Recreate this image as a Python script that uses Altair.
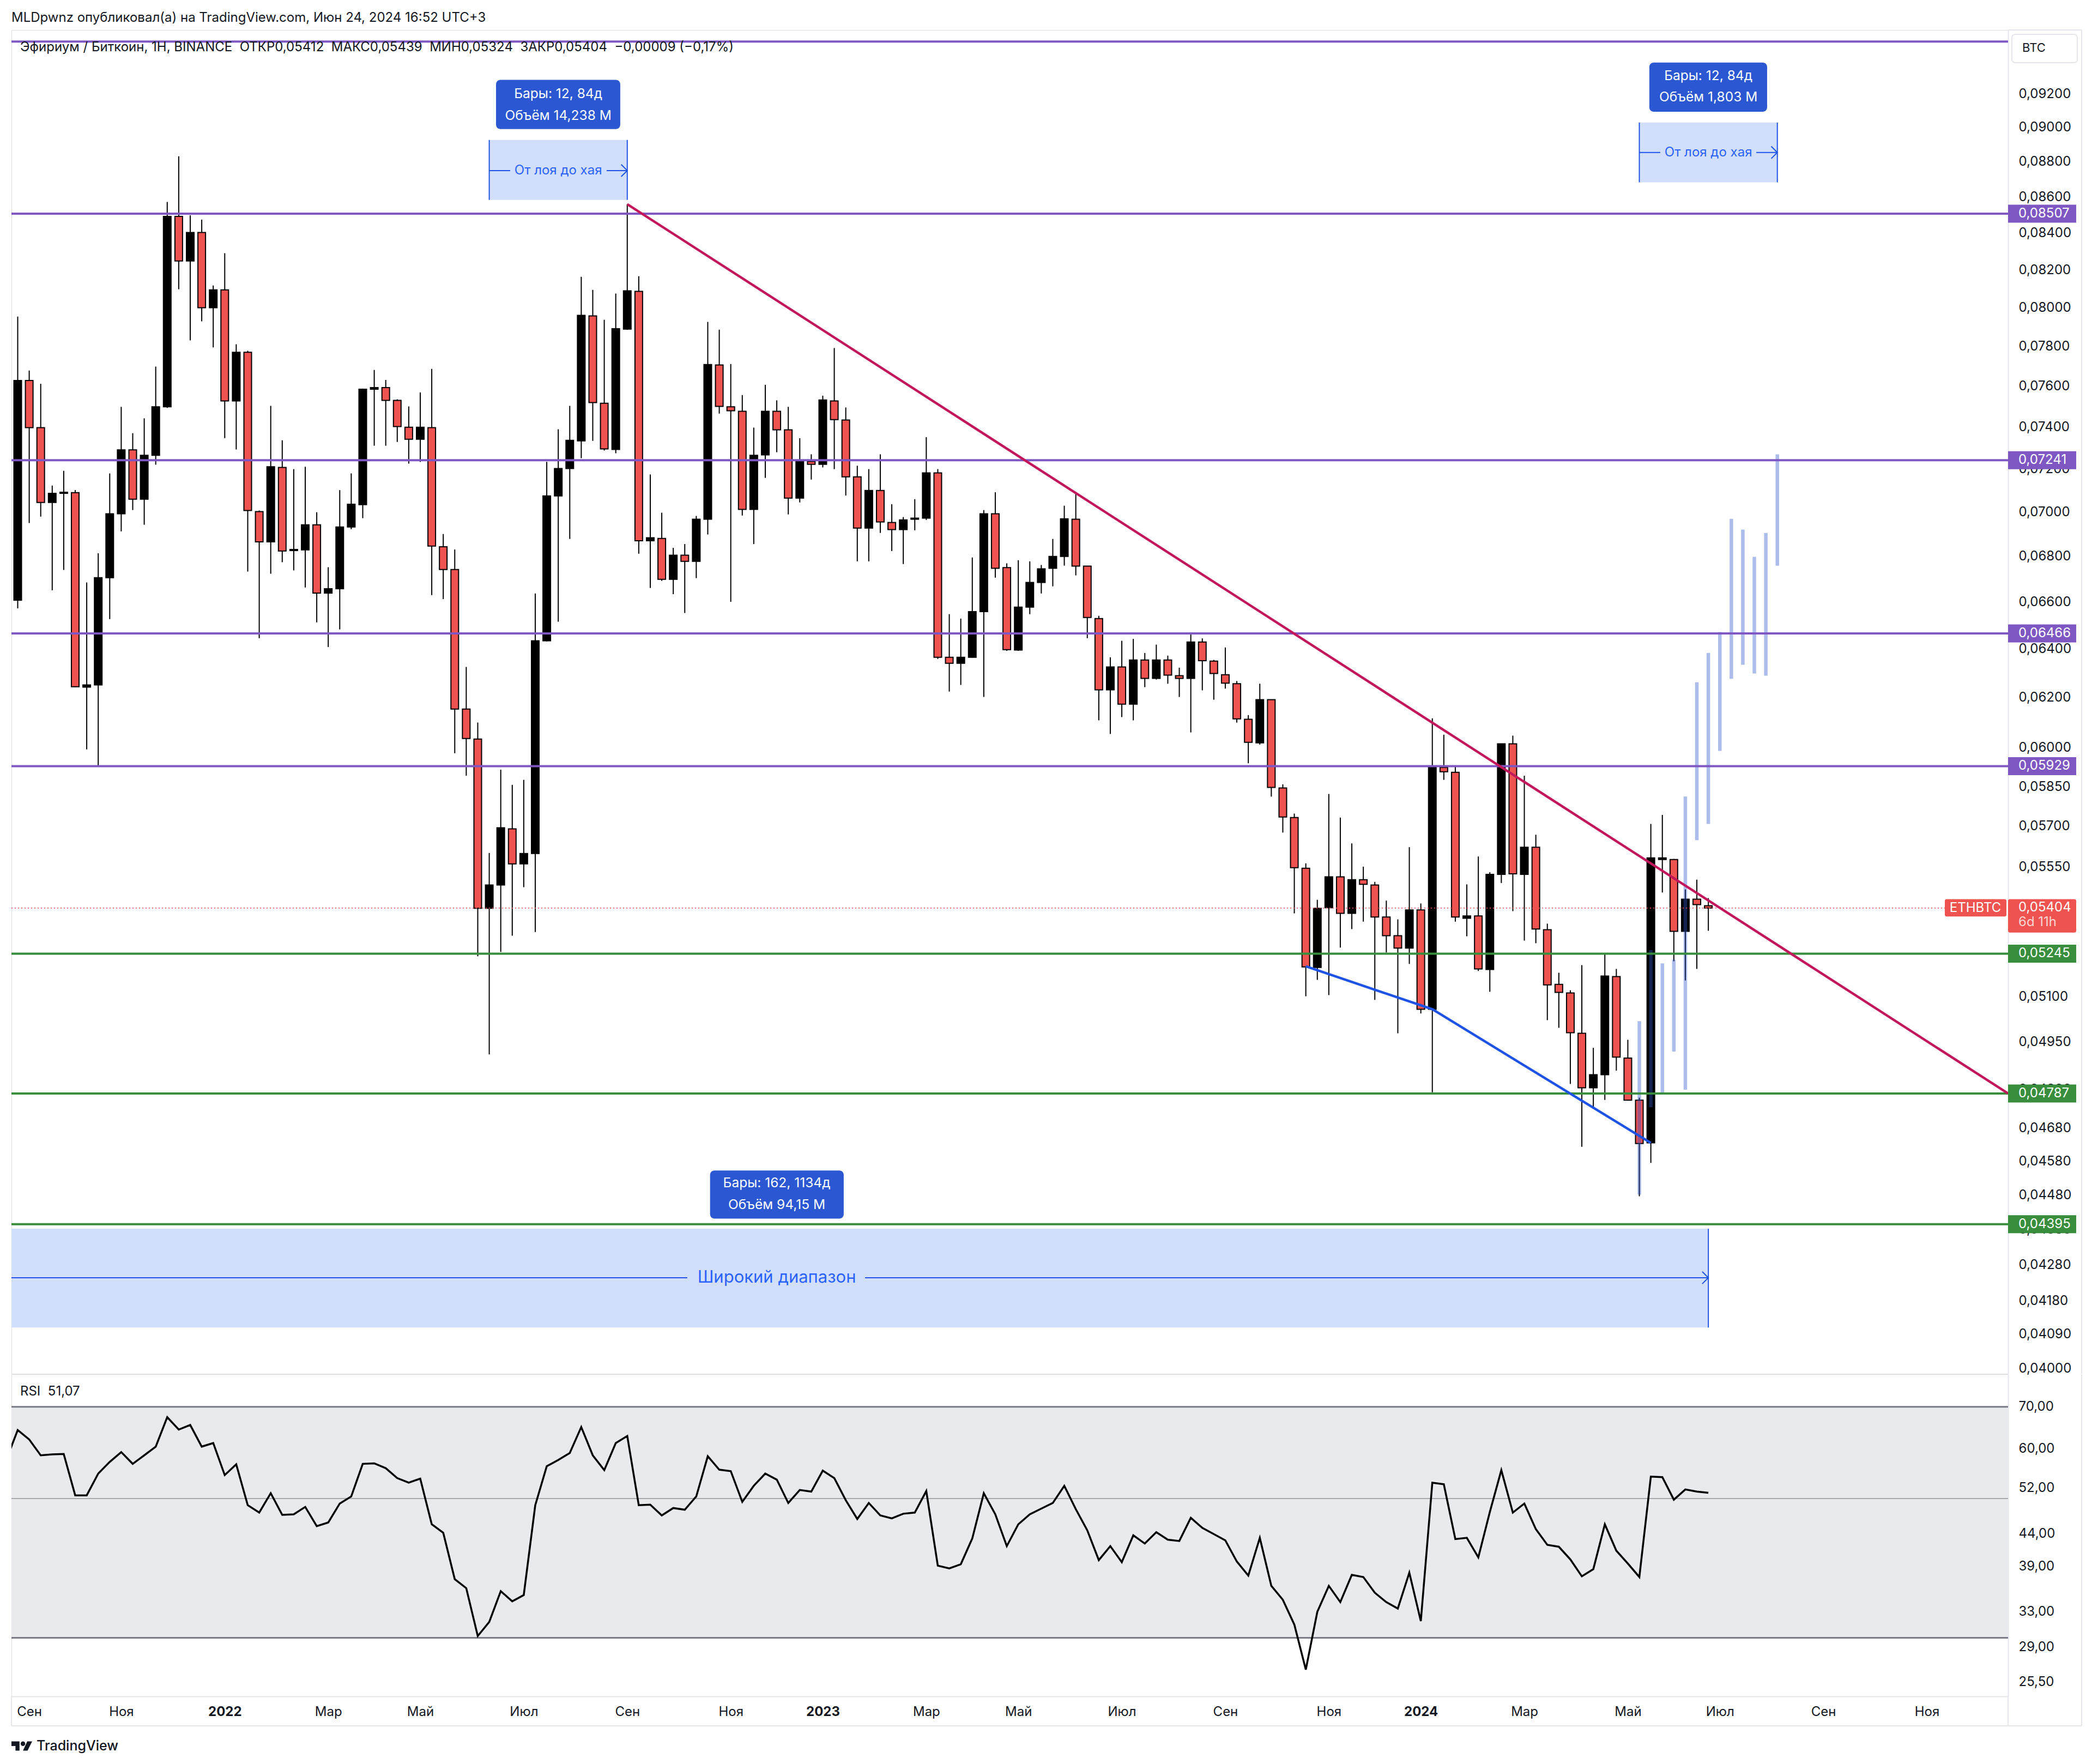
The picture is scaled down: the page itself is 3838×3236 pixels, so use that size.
import json

import altair as alt
import pandas as pd

FONT = 'Inter'
INK = '#131722'
UP = '#000000'
DOWN = '#ef5350'
PURPLE = '#7e57c2'
GREEN = '#388e3c'
TOOL = '#1e53e5'
FRAME = '#e4e6ec'

# weekly candles, prices in units of 0.00001 BTC
opens = [
    6608, 7628, 7397, 7044, 7086, 7089, 6243, 6252, 6706, 6992,
    7290, 7059, 7264, 7498, 8492, 8248, 8403, 8000, 8094, 7527,
    7770, 7002, 6865, 7207, 6826, 6829, 6942, 6639, 6658, 6932,
    7034, 7585, 7593, 7530, 7399, 7341, 7397, 6843, 6742, 6154,
    6035, 5403, 5486, 5691, 5562, 5600, 6435, 7074, 7202, 7333,
    7957, 7516, 7292, 7889, 8086, 6870, 6880, 6699, 6805, 6778,
    6967, 7706, 7498, 7476, 7012, 7266, 7476, 7386, 7064, 7235,
    7222, 7527, 7434, 7163, 6927, 7099, 6952, 6920, 6967, 6972,
    7181, 6366, 6341, 6366, 6559, 6992, 6750, 6396, 6578, 6685,
    6747, 6800, 6967, 6757, 6529, 6232, 6326, 6174, 6355, 6279,
    6355, 6290, 6279, 6430, 6350, 6294, 6257, 6113, 6020, 6192,
    5845, 5733, 5546, 5198, 5405, 5515, 5385, 5505, 5486, 5372,
    5307, 5264, 5397, 5058, 5924, 5905, 5368, 5376, 5191, 5524,
    6016, 5524, 5623, 5328, 5141, 5112, 4979, 4805, 4846, 5167,
    4899, 4766, 4635, 5578, 5578, 5322, 5435, 5412,
]
closes = [
    7628, 7397, 7044, 7086, 7091, 6245, 6252, 6706, 6992, 7290,
    7059, 7264, 7498, 8492, 8248, 8403, 8000, 8094, 7527, 7770,
    7007, 6865, 7210, 6824, 6831, 6942, 6639, 6658, 6932, 7036,
    7585, 7593, 7530, 7402, 7341, 7399, 6846, 6742, 6154, 6037,
    5403, 5486, 5695, 5562, 5600, 6435, 7074, 7202, 7336, 7960,
    7519, 7295, 7891, 8089, 6870, 6883, 6699, 6805, 6778, 6967,
    7708, 7500, 7479, 7012, 7264, 7476, 7386, 7064, 7235, 7222,
    7532, 7436, 7163, 6927, 7099, 6955, 6920, 6964, 6972, 7181,
    6366, 6341, 6366, 6559, 6992, 6747, 6398, 6578, 6685, 6745,
    6800, 6969, 6757, 6534, 6232, 6326, 6174, 6355, 6279, 6355,
    6292, 6279, 6430, 6352, 6299, 6259, 6115, 6022, 6192, 5847,
    5735, 5548, 5200, 5403, 5515, 5385, 5505, 5488, 5372, 5307,
    5264, 5397, 5058, 5926, 5907, 5372, 5376, 5193, 5524, 6016,
    5526, 5623, 5330, 5139, 5114, 4981, 4805, 4846, 5169, 4902,
    4766, 4633, 5584, 5584, 5322, 5435, 5416, 5404,
]
highs = [
    7954, 7678, 7612, 7122, 7191, 7101, 6685, 6814, 7179, 7498,
    7370, 7442, 7698, 8572, 8832, 8498, 8474, 8117, 8290, 7811,
    7778, 7007, 7503, 7336, 7199, 7210, 6999, 6752, 7101, 7179,
    7588, 7681, 7631, 7535, 7500, 7569, 7686, 6900, 6831, 6326,
    6100, 5602, 5915, 5857, 5876, 6637, 7233, 7389, 7503, 8163,
    8094, 7937, 8074, 8560, 8166, 7174, 6997, 6838, 6855, 6982,
    7926, 7886, 7711, 7556, 7397, 7607, 7530, 7498, 7346, 7269,
    7553, 7792, 7495, 7215, 7199, 7269, 7036, 6977, 7059, 7351,
    7199, 6548, 6529, 6795, 7009, 7091, 6769, 6783, 6778, 6762,
    6878, 7029, 7089, 6757, 6541, 6366, 6435, 6443, 6384, 6419,
    6373, 6323, 6462, 6445, 6355, 6407, 6268, 6130, 6257, 6192,
    5859, 5748, 5564, 5433, 5822, 5733, 5637, 5552, 5497, 5430,
    5364, 5623, 5420, 6117, 6052, 5926, 5488, 5589, 5532, 6016,
    6048, 5892, 5669, 5349, 5180, 5121, 5206, 4932, 5242, 5193,
    4958, 4774, 5709, 5743, 5580, 5470, 5505, 5439,
]
lows = [
    6573, 6950, 6979, 6651, 6740, 6243, 5994, 5932, 6527, 6912,
    7009, 6942, 7220, 7493, 8097, 7831, 7929, 7795, 7346, 7292,
    6733, 6446, 6723, 6774, 6738, 6663, 6513, 6409, 6483, 6922,
    6972, 7310, 7310, 7328, 7225, 7233, 6630, 6613, 5979, 5892,
    5236, 4911, 5251, 5307, 5478, 5320, 6433, 6516, 6878, 7251,
    7333, 7287, 7274, 7885, 6812, 6661, 6692, 6634, 6553, 6704,
    6898, 7465, 6601, 6984, 6855, 7158, 7279, 6989, 7044, 7150,
    7207, 7199, 7076, 6778, 6778, 6905, 6824, 6766, 6917, 6964,
    6359, 6225, 6252, 6364, 6203, 6706, 6393, 6393, 6548, 6637,
    6668, 6759, 6716, 6446, 6109, 6055, 6122, 6109, 6243, 6274,
    6257, 6203, 6061, 6230, 6192, 6237, 6100, 5940, 6013, 5812,
    5677, 5385, 5101, 5156, 5105, 5266, 5330, 5356, 5089, 5249,
    4979, 5210, 5044, 4791, 5876, 5356, 5305, 5186, 5116, 5493,
    5393, 5290, 5281, 5022, 4997, 4817, 4623, 4744, 4767, 4859,
    4766, 4476, 4575, 5459, 5219, 5154, 5193, 5324,
]

# RSI from bar -1 (cut by the left edge) to bar 147
rsi_values = [
    57.6,
    64.3, 62.1, 58.6, 58.8, 58.9, 50.6, 50.6, 54.8, 57.2, 59.3,
    56.8, 58.6, 60.5, 67.4, 64.4, 65.5, 60.5, 61.3, 54.5, 56.7,
    48.8, 47.5, 51.0, 47.1, 47.2, 48.5, 45.2, 45.8, 49.1, 50.4,
    56.8, 56.9, 55.9, 53.9, 53.0, 53.8, 45.5, 44.1, 37.2, 36.0,
    30.2, 31.8, 35.6, 34.3, 35.1, 48.8, 56.3, 57.6, 59.1, 65.0,
    58.6, 55.5, 61.3, 62.9, 48.8, 48.9, 47.0, 48.3, 48.0, 50.4,
    58.4, 55.6, 55.3, 49.4, 52.4, 54.8, 53.6, 49.2, 51.6, 51.3,
    55.4, 53.9, 49.7, 46.4, 49.2, 47.0, 46.5, 47.3, 47.5, 51.4,
    39.1, 38.7, 39.3, 43.2, 51.0, 47.2, 42.0, 45.5, 47.2, 48.2,
    49.2, 52.4, 48.1, 44.5, 39.9, 42.0, 39.6, 43.7, 42.4, 44.2,
    43.0, 42.8, 46.6, 44.9, 43.9, 42.9, 39.7, 37.7, 43.3, 36.3,
    34.5, 31.5, 26.7, 33.0, 36.3, 34.2, 37.8, 37.5, 35.4, 34.2,
    33.4, 38.1, 31.9, 53.0, 52.7, 43.1, 43.3, 40.3, 47.6, 55.5,
    47.5, 49.1, 44.7, 42.2, 41.9, 40.0, 37.6, 38.6, 45.5, 41.3,
    39.4, 37.5, 54.2, 54.1, 49.8, 51.7, 51.3, 51.07,
]

# translucent projected bars (bars pattern tool)
ghost_bars = [141, 142, 143, 144, 145, 146, 147, 148, 149, 150, 151, 152, 153]
ghost_tops = [5019, 5257, 5212, 5225, 5812, 6263, 6384, 6472, 6969, 6920, 6798, 6905, 7269]
ghost_bottoms = [4481, 4744, 4789, 4920, 4799, 5649, 5709, 5988, 6277, 6335, 6299, 6290, 6759]

# horizontal levels
level_prices = [9520, 8507, 7241, 6466, 5929, 5245, 4787, 4395]
level_colors = [PURPLE, PURPLE, PURPLE, PURPLE, PURPLE, GREEN, GREEN, GREEN]
tag_prices = [8507, 7241, 6466, 5929, 5245, 4787, 4395]
tag_colors = [PURPLE, PURPLE, PURPLE, PURPLE, GREEN, GREEN, GREEN]
tag_labels = ['0,08507', '0,07241', '0,06466', '0,05929', '0,05245', '0,04787', '0,04395']

# trend lines: bar, price
trend_bars = [53.0, 173.06]
trend_prices = [8560, 4787]
wedge_bars = [112, 123, 142]
wedge_prices = [5202, 5058, 4635]

# measure tools
box_left = [41, 141, -0.55]
box_right = [53, 153, 147]
box_top = [8927, 9029, 4382]
box_bottom = [8584, 8683, 4108]
arrow_price = [8750, 8854, 4244]
arrow_gap_left = [42.82, 142.82, 58.22]
arrow_gap_right = [51.21, 151.17, 73.67]
box_text = ['От лоя до хая', 'От лоя до хая', 'Широкий диапазон']
box_text_bar = [47, 147, 66]
box_text_size = [24, 24, 31]

info_left = [41.59, 141.87, 60.2]
info_right = [52.39, 152.11, 71.82]
info_top = [9284, 9390, 4552]
info_bottom = [8991, 9093, 4411]
info_bar = [47, 147, 66]
info_line1 = ['Бары: 12, 84д', 'Бары: 12, 84д', 'Бары: 162, 1134д']
info_line2 = ['Объём 14,238 M', 'Объём 1,803 M', 'Объём 94,15 M']
info_y1 = [9198, 9307, 4513]
info_y2 = [9068, 9176, 4450]

# axes
price_ticks = [
    0.092, 0.09, 0.088, 0.086, 0.084, 0.082, 0.08, 0.078, 0.076, 0.074, 0.072,
    0.07, 0.068, 0.066, 0.064, 0.062, 0.06, 0.0585, 0.057, 0.0555, 0.054,
    0.0525, 0.051, 0.0495, 0.048, 0.0468, 0.0458, 0.0448, 0.0438, 0.0428,
    0.0418, 0.0409, 0.04,
]
rsi_ticks = [70, 60, 52, 44, 39, 33, 29, 25.5]
month_bars = [1, 9, 18, 27, 35, 44, 53, 62, 70, 79, 87, 96, 105, 114, 122, 131, 140, 148, 157, 166]
month_names = ['Сен', 'Ноя', '2022', 'Мар', 'Май', 'Июл', 'Сен', 'Ноя', '2023', 'Мар',
               'Май', 'Июл', 'Сен', 'Ноя', '2024', 'Мар', 'Май', 'Июл', 'Сен', 'Ноя']
year_bars = [18, 70, 122]

PANEL_W = 3663
PRICE_H = 2465
RSI_H = 591

# padding=0: without it a bar mark pads the continuous x scale and the bars drift off the RSI panel
bar_scale = alt.Scale(domain=[-0.545, 173.06], nice=False, zero=False, padding=0)
price_scale = alt.Scale(type='log', domain=[0.03986, 0.09592], nice=False)
rsi_scale = alt.Scale(type='log', domain=[24.2, 78.9], nice=False)

price_axis = alt.Axis(
    orient='right', values=price_ticks, grid=False, ticks=False,
    labelExpr="replace(format(datum.value, '.5f'), '.', ',')",
    labelFont=FONT, labelFontSize=24, labelColor=INK, labelPadding=19,
    labelOverlap=False, labelBound=False, labelFlush=False,
    domainColor=FRAME, domainWidth=2,
)
rsi_axis = alt.Axis(
    orient='right', values=rsi_ticks, grid=False, ticks=False,
    labelExpr="replace(format(datum.value, '.2f'), '.', ',')",
    labelFont=FONT, labelFontSize=24, labelColor=INK, labelPadding=19,
    labelOverlap=False, labelBound=False, labelFlush=False,
    domainColor=FRAME, domainWidth=2,
)


def bx(field):
    return alt.X(field, type='quantitative', scale=bar_scale, axis=None, title=None)


def py(field):
    return alt.Y(field, type='quantitative', scale=price_scale, axis=price_axis, title=None)


def ry(field):
    return alt.Y(field, type='quantitative', scale=rsi_scale, axis=rsi_axis, title=None)


def pixel_text(text, x, y, size=24, color=INK, align='left', weight='normal'):
    return alt.Chart(pd.DataFrame({'label': [text]})).mark_text(
        align=align, baseline='middle', font=FONT, fontSize=size, color=color, fontWeight=weight
    ).encode(x=alt.value(x), y=alt.value(y), text='label:N')


def frame_line(x, y, x2=None, y2=None):
    enc = {'x': alt.value(x), 'y': alt.value(y)}
    if x2 is not None:
        enc['x2'] = alt.value(x2)
    if y2 is not None:
        enc['y2'] = alt.value(y2)
    return alt.Chart(pd.DataFrame({'a': [0]})).mark_rule(color=FRAME, strokeWidth=2).encode(**enc)


candles = pd.DataFrame({
    'bar': list(range(len(opens))),
    'open': [v / 1e5 for v in opens],
    'close': [v / 1e5 for v in closes],
    'high': [v / 1e5 for v in highs],
    'low': [v / 1e5 for v in lows],
})
candles['fill'] = [UP if c >= o else DOWN for o, c in zip(opens, closes)]

ghosts = pd.DataFrame({
    'bar': ghost_bars,
    'top': [v / 1e5 for v in ghost_tops],
    'bottom': [v / 1e5 for v in ghost_bottoms],
})
levels = pd.DataFrame({'price': [v / 1e5 for v in level_prices], 'color': level_colors})
tags = pd.DataFrame({'price': [v / 1e5 for v in tag_prices], 'color': tag_colors, 'label': tag_labels})
trend = pd.DataFrame({'bar': trend_bars, 'price': [v / 1e5 for v in trend_prices]})
wedge = pd.DataFrame({'bar': wedge_bars, 'price': [v / 1e5 for v in wedge_prices]})
boxes = pd.DataFrame({
    'left': box_left, 'right': box_right,
    'top': [v / 1e5 for v in box_top], 'bottom': [v / 1e5 for v in box_bottom],
    'arrow': [v / 1e5 for v in arrow_price],
    'gap_left': arrow_gap_left, 'gap_right': arrow_gap_right,
    'text': box_text, 'text_bar': box_text_bar, 'text_size': box_text_size,
})
infos = pd.DataFrame({
    'left': info_left, 'right': info_right,
    'top': [v / 1e5 for v in info_top], 'bottom': [v / 1e5 for v in info_bottom],
    'bar': info_bar, 'line1': info_line1, 'line2': info_line2,
    'y1': [v / 1e5 for v in info_y1], 'y2': [v / 1e5 for v in info_y2],
})

# --- price panel ---
wicks = alt.Chart(candles).mark_rule(color='#000000', strokeWidth=2).encode(
    x=bx('bar'), y=py('low'), y2='high:Q',
)
bodies = alt.Chart(candles).mark_bar(size=14, stroke='#000000', strokeWidth=2).encode(
    x=bx('bar'), y=py('open'), y2='close:Q',
    color=alt.Color('fill:N', scale=None),
)
ghost_marks = alt.Chart(ghosts).mark_rule(color='#2f5bd0', opacity=0.4, strokeWidth=6.5).encode(
    x=bx('bar'), y=py('bottom'), y2='top:Q',
)
level_marks = alt.Chart(levels).mark_rule(strokeWidth=4).encode(
    y=py('price'), color=alt.Color('color:N', scale=None),
)
close_line = alt.Chart(pd.DataFrame({'price': [closes[-1] / 1e5]})).mark_rule(
    color=DOWN, strokeWidth=1.5, strokeDash=[2, 4]
).encode(x=alt.value(0), x2=alt.value(3547), y=py('price'))
trend_line = alt.Chart(trend).mark_line(color='#c2185b', strokeWidth=4.5, clip=True).encode(
    x=bx('bar'), y=py('price'),
)
wedge_line = alt.Chart(wedge).mark_line(color=TOOL, strokeWidth=4.5).encode(
    x=bx('bar'), y=py('price'),
)
box_fill = alt.Chart(boxes).mark_rect(color='#d2dffc').encode(
    x=bx('left'), x2='right:Q', y=py('top'), y2='bottom:Q',
)
box_left_edge = alt.Chart(boxes.iloc[:2]).mark_rule(color=TOOL, strokeWidth=2).encode(
    x=bx('left'), y=py('top'), y2='bottom:Q',
)
box_right_edge = alt.Chart(boxes).mark_rule(color=TOOL, strokeWidth=2).encode(
    x=bx('right'), y=py('top'), y2='bottom:Q',
)
arrow_a = alt.Chart(boxes).mark_rule(color=TOOL, strokeWidth=2).encode(
    x=bx('left'), x2='gap_left:Q', y=py('arrow'),
)
arrow_b = alt.Chart(boxes).mark_rule(color=TOOL, strokeWidth=2).encode(
    x=bx('gap_right'), x2='right:Q', y=py('arrow'),
)
arrow_head = alt.Chart(boxes).mark_point(
    shape='M -1 -1 L 0 0 L -1 1', filled=False, size=500, color=TOOL, strokeWidth=2, opacity=1,
).encode(x=bx('right'), y=py('arrow'))
box_label = alt.Chart(boxes).mark_text(font=FONT, color='#2962ff', baseline='middle').encode(
    x=bx('text_bar'), y=py('arrow'), text='text:N',
    size=alt.Size('text_size:Q', scale=None),
)
info_rect = alt.Chart(infos).mark_rect(color='#2b57d2', cornerRadius=8).encode(
    x=bx('left'), x2='right:Q', y=py('top'), y2='bottom:Q',
)
info_text1 = alt.Chart(infos).mark_text(font=FONT, fontSize=24.5, color='#ffffff', baseline='middle').encode(
    x=bx('bar'), y=py('y1'), text='line1:N',
)
info_text2 = alt.Chart(infos).mark_text(font=FONT, fontSize=24.5, color='#ffffff', baseline='middle').encode(
    x=bx('bar'), y=py('y2'), text='line2:N',
)
tag_bg = alt.Chart(tags).mark_rule(strokeWidth=33).encode(
    x=alt.value(PANEL_W), x2=alt.value(3788), y=py('price'),
    color=alt.Color('color:N', scale=None),
)
tag_text = alt.Chart(tags).mark_text(
    font=FONT, fontSize=24, color='#ffffff', align='left', baseline='middle'
).encode(x=alt.value(3682), y=py('price'), text='label:N')
last_bg = alt.Chart(pd.DataFrame({'top': [5435 / 1e5], 'bottom': [5318 / 1e5]})).mark_rect(
    color=DOWN, cornerRadius=3
).encode(x=alt.value(PANEL_W), x2=alt.value(3788), y=py('top'), y2='bottom:Q')
name_bg = alt.Chart(pd.DataFrame({'top': [5435 / 1e5], 'bottom': [5374 / 1e5]})).mark_rect(
    color=DOWN, cornerRadius=3
).encode(x=alt.value(3547), x2=alt.value(3660), y=py('top'), y2='bottom:Q')
last_text = alt.Chart(pd.DataFrame({
    'price': [5406 / 1e5, 5354 / 1e5], 'label': ['0,05404', '6d 11h'], 'color': ['#ffffff', '#fbd5d4'],
})).mark_text(font=FONT, fontSize=24, align='left', baseline='middle').encode(
    x=alt.value(3682), y=py('price'), text='label:N', color=alt.Color('color:N', scale=None),
)
name_text = alt.Chart(pd.DataFrame({'price': [5404 / 1e5], 'label': ['ETHBTC']})).mark_text(
    font=FONT, fontSize=24, color='#ffffff', align='center', baseline='middle'
).encode(x=alt.value(3603), y=py('price'), text='label:N')
btc_button = alt.Chart(pd.DataFrame({'a': [0]})).mark_rect(
    fill='#ffffff', stroke=FRAME, strokeWidth=2, cornerRadius=6
).encode(x=alt.value(3670), x2=alt.value(3790), y=alt.value(8), y2=alt.value(60))

legend_text = ('Эфириум / Биткоин, 1H, BINANCE\u00a0\u00a0ОТКР0,05412\u00a0\u00a0МАКС0,05439'
               '\u00a0\u00a0МИН0,05324\u00a0\u00a0ЗАКР0,05404\u00a0\u00a0−0,00009 (−0,17%)')

price_panel = alt.layer(
    wicks, bodies, ghost_marks, box_fill, box_left_edge, box_right_edge,
    level_marks, close_line, trend_line, wedge_line,
    arrow_a, arrow_b, arrow_head, box_label, info_rect, info_text1, info_text2,
    name_bg, tag_bg, last_bg, tag_text, last_text, name_text,
    btc_button,
    pixel_text('BTC', 3689, 33, size=22),
    pixel_text('MLDpwnz опубликовал(а) на TradingView.com, Июн 24, 2024 16:52 UTC+3', 0, -22, size=24),
    pixel_text(legend_text, 16, 32, size=24),
    frame_line(PANEL_W, 0, x2=3798),
    frame_line(3798, 0, y2=PRICE_H),
).properties(width=PANEL_W, height=PRICE_H)

# --- RSI panel ---
rsi = pd.DataFrame({'bar': list(range(-1, len(rsi_values) - 1)), 'rsi': rsi_values})

rsi_band = alt.Chart(pd.DataFrame({'top': [70], 'bottom': [30]})).mark_rect(color='#e9eaed').encode(
    y=ry('top'), y2='bottom:Q',
)
rsi_limits = alt.Chart(pd.DataFrame({'v': [70, 30]})).mark_rule(color='#787b86', strokeWidth=3).encode(y=ry('v'))
rsi_mid = alt.Chart(pd.DataFrame({'v': [50]})).mark_rule(color='#a8a9ad', strokeWidth=2).encode(y=ry('v'))
month_axis = alt.Axis(
    values=month_bars, grid=False, ticks=False, domainColor=FRAME, domainWidth=2,
    labelExpr=f"{json.dumps(month_names, ensure_ascii=False)}[indexof({month_bars}, datum.value)]",
    labelFont=FONT, labelFontSize=24, labelColor=INK, labelPadding=16, labelOverlap=False,
    labelBound=False, labelFlush=False,
    labelFontWeight={'condition': {'test': f'indexof({year_bars}, datum.value) >= 0', 'value': 'bold'},
                     'value': 'normal'},
)
rsi_line = alt.Chart(rsi).mark_line(color='#000000', strokeWidth=3.5, clip=True).encode(
    x=alt.X('bar:Q', scale=bar_scale, axis=month_axis, title=None),
    y=ry('rsi'),
)
tv_logo = alt.Chart(pd.DataFrame({'a': [0]})).mark_point(
    shape=('M -.222 -.444 H -1 V 0 H -.611 V .444 H -.222 Z '
           'M .556 .444 H .111 L .528 -.444 H 1 Z '
           'M -.111 -.222 A .222 .222 0 1 1 .333 -.222 A .222 .222 0 1 1 -.111 -.222 Z'),
    filled=True, size=1444, color=INK, opacity=1,
).encode(x=alt.value(19), y=alt.value(682))

rsi_panel = alt.layer(
    rsi_band, rsi_limits, rsi_mid, rsi_line,
    pixel_text('RSI\u00a0\u00a051,07', 16, 32, size=24),
    frame_line(3798, 0, y2=645),
    frame_line(0, 645, x2=3798),
    frame_line(0, RSI_H, y2=645),
    frame_line(PANEL_W, RSI_H, y2=645),
    tv_logo,
    pixel_text('TradingView', 46, 682, size=25, weight=500),
).properties(width=PANEL_W, height=RSI_H)

# flush: panels tile by their plot sizes, the 0,04000 label may hang over the seam as in the reference
chart = alt.vconcat(price_panel, rsi_panel, spacing=1, bounds='flush').properties(
    padding={'left': 10, 'top': 12, 'right': 0, 'bottom': 0},
).configure_view(stroke=FRAME, strokeWidth=2).configure(background='#ffffff')

chart.save("out.html", embed_options={"renderer": "svg", "actions": False})
